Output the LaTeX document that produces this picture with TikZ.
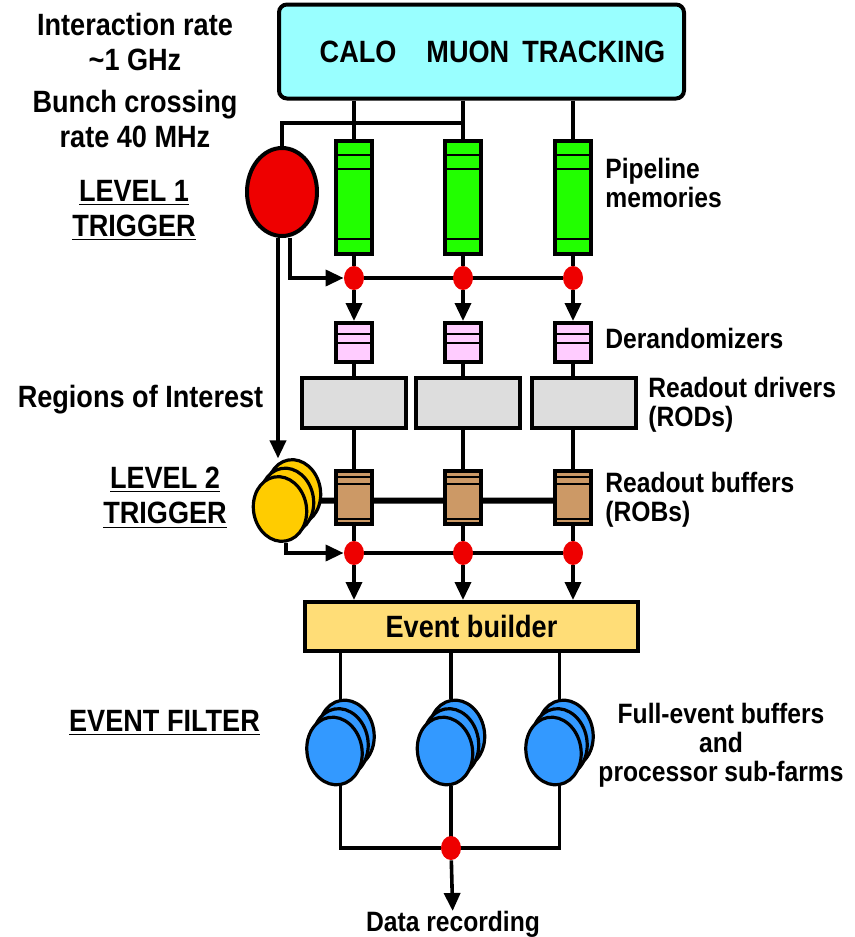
\documentclass[tikz,border=0pt]{standalone}
\usepackage{fontspec}
\setmainfont{Liberation Sans}[FakeStretch=0.88]
\usepackage{tikz}
\usetikzlibrary{arrows.meta,positioning,calc,backgrounds,shapes.geometric}

\definecolor{detcyan}{HTML}{99FFFF}
\definecolor{pipegreen}{HTML}{22FF00}
\definecolor{derpink}{HTML}{FFCCFF}
\definecolor{rodgray}{HTML}{DDDDDD}
\definecolor{robbrown}{HTML}{CC9966}
\definecolor{ebyellow}{HTML}{FFDD77}
\definecolor{trigred}{HTML}{EE0000}
\definecolor{trigyellow}{HTML}{FFCC00}
\definecolor{farmblue}{HTML}{3399FF}

% Trennlinie in einem Kasten (Anteil von oben)
\newcommand{\sepline}[1]{\draw[line width=1pt]
  ($(path picture bounding box.north west)!#1!(path picture bounding box.south west)$) --
  ($(path picture bounding box.north east)!#1!(path picture bounding box.south east)$);}

\begin{document}
\begin{tikzpicture}[x=0.5pt, y=-0.5pt, every node/.style={inner sep=0pt},
    bigtxt/.style={font=\fontsize{15.4}{17.5}\selectfont\bfseries, align=center},
    smalltxt/.style={font=\fontsize{14}{14.5}\selectfont\bfseries, align=left},
    wire/.style={line width=1.8pt},
    bus/.style={line width=3pt},
    flow/.style={line width=1.8pt, -{Triangle[length=9pt,width=8pt]}},
    modbox/.style={draw, line width=2pt, rectangle},
    detbox/.style={modbox, rounded corners=4pt, fill=detcyan, minimum width=202.5pt, minimum height=47pt,
        font=\fontsize{15.4}{17.5}\selectfont\bfseries},
    pipebox/.style={modbox, fill=pipegreen, minimum width=18pt, minimum height=56.5pt,
        path picture={\sepline{0.124}\sepline{0.248}\sepline{0.876}}},
    derbox/.style={modbox, fill=derpink, minimum width=18pt, minimum height=19.5pt,
        path picture={\sepline{0.28}\sepline{0.51}}},
    rodbox/.style={modbox, fill=rodgray, minimum width=52pt, minimum height=25pt},
    robbox/.style={modbox, fill=robbrown, minimum width=18pt, minimum height=26.5pt,
        path picture={\sepline{0.13}\sepline{0.26}\sepline{0.92}}},
    ebbox/.style={modbox, fill=ebyellow, minimum width=166.5pt, minimum height=24.5pt},
    tapdot/.style={ellipse, fill=trigred, minimum width=10pt, minimum height=12pt},
    proc/.style={ellipse, draw, line width=1.6pt, rotate=10}
  ]
    \useasboundingbox (0,0) rectangle (855,937);

    % Detektor
    \node[detbox] (det) at (481.5,51.5) {\hspace*{11pt}CALO\hspace{15pt}MUON\hspace{6.5pt}TRACKING};
    \coordinate (bx) at (465,123);

    % Spalten: Pipeline, Derandomizer, ROD, ROB
    \foreach \i/\x/\rx in {1/354/354,2/463/468,3/573/584} {
      \node[pipebox] (pm\i) at (\x,197) {};
      \node[tapdot] (a\i) at (\x,278) {};
      \node[derbox] (dr\i) at (\x,342.5) {};
      \node[rodbox] (rod\i) at (\rx,403) {};
      \node[robbox] (rob\i) at (\x,497) {};
      \node[tapdot] (b\i) at (\x,553) {};
    }

    % Trigger
    \node[ellipse, draw, line width=2pt, fill=trigred, minimum width=35pt, minimum height=44pt] (lvl1) at (282,192) {};
    \foreach \j/\x/\y in {c/294/492,b/287/500.5,a/280/509}
      \node[proc, fill=trigyellow, minimum width=26.5pt, minimum height=32.5pt] (lvl2\j) at (\x,\y) {};

    % Event builder und Farmen
    \node[ebbox, bigtxt] (eb) at (471.5,626.5) {Event builder};
    \foreach \g/\x in {1/334.5,2/445,3/553.5} {
      \foreach \j/\d in {c/12,b/6,a/0} {
        \pgfmathsetmacro{\px}{\x+\d}
        \pgfmathsetmacro{\py}{751-1.42*\d}
        \node[proc, fill=farmblue, minimum width=27.5pt, minimum height=34pt] (ef\g\j) at (\px,\py) {};
      }
    }
    \node[tapdot] (out) at (451,848) {};

    % Leitungen
    \begin{scope}[on background layer]
      \foreach \i in {1,2,3} {
        \draw[wire] (det.south -| pm\i) -- (pm\i);
        \draw[wire] (pm\i) -- (a\i);
        \draw[wire] (dr\i) -- (dr\i |- rod\i.north);
        \draw[wire] (rod\i.south -| rob\i) -- (rob\i);
        \draw[wire] (rob\i) -- (b\i);
      }
      \draw[wire] (a1) -- (a3);
      \draw[wire] (b1) -- (b3);
      \draw[bus] (lvl2b) -- (lvl2b -| rob3);
      \draw[wire] (lvl1.north) |- (bx);
      \foreach \g in {1,2,3} {
        \draw[wire] (eb.south -| ef\g c.north) -- (ef\g c.north);
        \draw[wire] (ef\g a.south) |- (out);
      }
    \end{scope}

    % Pfeile
    \foreach \i in {1,2,3} {
      \draw[flow] (a\i) -- (dr\i);
      \draw[flow] (b\i) -- (b\i |- eb.north);
    }
    \draw[flow] ([xshift=4pt]lvl1.south) |- (a1);
    \draw[flow] ([xshift=-2pt]lvl1.south) -- ([xshift=-2pt]lvl1.south |- lvl2c.north);
    \draw[flow] (lvl2a.south) |- (b1);

    % Beschriftungen
    \node[bigtxt, anchor=north] (rate) at (135,13) {Interaction rate\\\textasciitilde1 GHz};
    \node[bigtxt, anchor=north] (bc) at (135,90) {Bunch crossing\\rate 40 MHz};
    \node[bigtxt, anchor=north] (l1txt) at (134,180) {\underline{LEVEL 1}\\\underline{TRIGGER}};
    \node[bigtxt] (roitxt) at (140.5,400) {Regions of Interest};
    \node[bigtxt, anchor=north] (l2txt) at (165,467) {\underline{LEVEL 2}\\\underline{TRIGGER}};
    \node[bigtxt, anchor=north] (eftxt) at (164.5,710) {\underline{EVENT FILTER}};
    \node[smalltxt, anchor=north west] (pmtxt) at (605,158) {Pipeline\\memories};
    \node[smalltxt, anchor=north west] (drtxt) at (605,328) {Derandomizers};
    \node[smalltxt, anchor=north west] (rodtxt) at (648,377) {Readout drivers\\(RODs)};
    \node[smalltxt, anchor=north west] (robtxt) at (605,472) {Readout buffers\\(ROBs)};
    \node[smalltxt, align=center, anchor=north] (farmtxt) at (721,703) {Full-event buffers\\and\\processor sub-farms};
    \node[smalltxt, anchor=north] (rec) at (453,911) {Data recording};
    \draw[flow] (out) -- (rec);
  \end{tikzpicture}
\end{document}
